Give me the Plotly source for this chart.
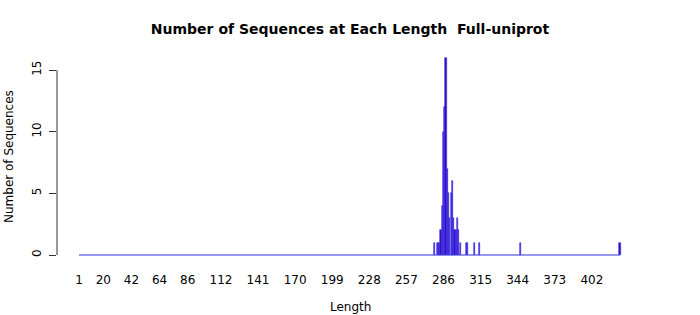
import plotly.graph_objects as go

# Data (sequence length -> number of sequences)
lengths = [279, 281, 282, 283, 284, 285, 286, 287, 288, 289, 290, 291, 292, 293,
           294, 295, 296, 297, 298, 299, 304, 305, 310, 314, 346, 424]
counts = [1, 1, 1, 1, 2, 4, 10, 12, 16, 7, 5, 3, 5, 6,
          3, 2, 2, 3, 2, 1, 1, 1, 1, 1, 1, 1]
length_min = 1
length_max = 424
x_tick_labels = [1, 20, 42, 64, 86, 112, 141, 170, 199, 228, 257, 286, 315, 344, 373, 402]
y_ticks = [0, 5, 10, 15]

FONT = "DejaVu Sans"
fig = go.Figure()

# baseline formed by the zero-height bars (R barplot borders)
fig.add_trace(go.Scatter(
    x=[length_min, length_max], y=[0, 0], mode="lines",
    line=dict(color="#3030E0", width=1.2), hoverinfo="skip", showlegend=False))

fig.add_trace(go.Bar(
    x=lengths, y=counts, width=0.9,
    marker=dict(color="#4000B4", line=dict(color="#3838EE", width=0.6)),
    showlegend=False))

# plot area: left 57, right 640, top 45, bottom 265
L, R, T, B = 57, 640, 45, 265
W, H = 700, 315
px_per_unit_x = (620 - 79) / (length_max - length_min)
x0 = length_min - (79 - L) / px_per_unit_x
x1 = x0 + (R - L) / px_per_unit_x
px_per_unit_y = (255 - 70) / 15
y0 = -(B - 255) / px_per_unit_y
y1 = y0 + (B - T) / px_per_unit_y

fig.update_layout(
    width=W, height=H,
    margin=dict(l=L, r=W - R, t=T, b=H - B, pad=0),
    plot_bgcolor="white", paper_bgcolor="white",
    bargap=0,
    title=dict(text="<b>Number of Sequences at Each Length  Full-uniprot</b>",
               x=(350) / W, xanchor="center", y=1 - 29 / H, yanchor="middle",
               font=dict(family=FONT, size=14, color="black")),
    xaxis=dict(range=[x0, x1], showgrid=False, zeroline=False, showline=False,
               ticks="", tickvals=x_tick_labels, ticktext=[str(v) for v in x_tick_labels],
               tickfont=dict(family=FONT, size=12, color="black"), tickangle=0,
               ticklabelstandoff=6),
    yaxis=dict(range=[y0, y1], showgrid=False, zeroline=False, showline=False,
               ticks="outside", ticklen=7, tickcolor="#333", tickwidth=1,
               tickvals=y_ticks, tickangle=-90, ticklabelstandoff=3,
               tickfont=dict(family=FONT, size=12, color="black")),
    shapes=[dict(type="line", xref="paper", yref="y", x0=0, x1=0,
                 y0=min(y_ticks), y1=max(y_ticks), line=dict(color="#333", width=1))],
    annotations=[
        dict(text="Length", xref="paper", yref="paper",
             x=(350 - L) / (R - L), y=(B - 307) / (B - T), xanchor="center", yanchor="middle",
             showarrow=False, font=dict(family=FONT, size=12, color="black")),
        dict(text="Number of Sequences", xref="paper", yref="paper", textangle=-90,
             x=(9 - L) / (R - L), y=(B - 157) / (B - T), xanchor="center", yanchor="middle",
             showarrow=False, font=dict(family=FONT, size=12, color="black")),
    ],
)

fig.write_html("out.html")
